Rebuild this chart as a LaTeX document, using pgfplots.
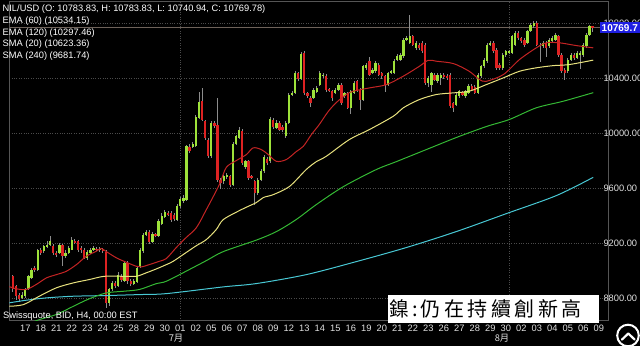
\documentclass[border=0pt]{standalone}
\usepackage{pgfplots}
\pgfplotsset{compat=1.18}
\usepackage{pgfplotstable}
\usepackage{fontspec}
\setmainfont{Liberation Sans}
\newfontfamily\cjk{Noto Sans CJK TC}
\definecolor{cup}{RGB}{158,226,58}
\definecolor{cdn}{RGB}{222,34,34}
\definecolor{wick}{RGB}{140,140,140}
\definecolor{sma20}{RGB}{196,36,36}
\definecolor{ema60}{RGB}{232,226,126}
\definecolor{ema120}{RGB}{52,184,52}
\definecolor{sma240}{RGB}{72,200,212}
\definecolor{pline}{RGB}{110,98,90}
\definecolor{gridc}{RGB}{75,75,75}
\definecolor{framec}{RGB}{85,85,85}
\definecolor{lblue}{RGB}{30,30,225}
\definecolor{tickc}{RGB}{225,225,225}
\newcommand\fs{\fontsize{9.3bp}{11bp}\selectfont}

\pgfplotstableread{
i o h l c
-1 8807 8845 8795 8829
0 8817 8880 8805 8871
1 8871 8970 8860 8962
2 8953 9025 8940 9011
4 9011 9160 9000 9151
6 9144 9190 9130 9180
7 9178 9217 9165 9193
8 9193 9258 9185 9217
11 9135 9205 9125 9193
13 9106 9150 9095 9135
14 9135 9185 9125 9171
15 9156 9245 9150 9224
20 9098 9150 9080 9142
21 9135 9170 9125 9156
22 9156 9180 9145 9166
24 9156 9175 9140 9164
27 8771 8880 8749 8866
28 8866 8930 8855 8916
30 8895 8990 8885 8974
32 8931 9075 8920 9062
35 8909 8945 8900 8931
36 8924 9035 8915 9025
37 9033 9165 9025 9156
38 9144 9275 9135 9265
39 9265 9300 9255 9287
41 9214 9285 9205 9273
43 9258 9380 9250 9362
44 9345 9420 9335 9404
45 9396 9445 9385 9428
49 9375 9490 9365 9476
50 9471 9540 9460 9527
51 9508 9550 9495 9535
52 9520 9920 9510 9908
54 9905 9940 9895 9927
55 9908 10135 9900 10124
56 10114 10300 10105 10228
60 9835 10090 9820 10080
64 9653 9700 9630 9689
65 9687 9715 9670 9702
67 9629 9940 9620 9927
68 9927 9990 9915 9980
69 9969 10045 9960 10024
71 9758 9810 9745 9798
75 9569 9675 9555 9665
76 9665 9740 9655 9726
77 9726 9845 9715 9830
79 9798 10120 9785 10107
81 10044 10095 10030 10080
84 9980 10090 9965 10080
85 10078 10295 10070 10284
86 10284 10310 10270 10296
87 10296 10455 10285 10441
89 10398 10595 10390 10582
93 10262 10330 10250 10320
94 10305 10345 10295 10334
95 10356 10455 10345 10441
96 10420 10440 10405 10429
100 10296 10330 10285 10320
101 10320 10370 10310 10356
103 10271 10305 10260 10296
105 10189 10320 10140 10308
106 10296 10380 10285 10369
109 10247 10500 10235 10489
110 10478 10515 10465 10502
112 10441 10475 10430 10465
113 10453 10525 10440 10514
117 10356 10450 10345 10441
118 10441 10465 10430 10453
119 10441 10540 10430 10526
120 10538 10575 10525 10562
121 10538 10585 10525 10574
122 10562 10695 10550 10684
123 10684 10710 10670 10696
124 10660 10865 10650 10708
126 10623 10670 10610 10660
130 10369 10415 10340 10405
131 10356 10450 10300 10441
133 10381 10440 10370 10429
134 10405 10440 10350 10429
139 10211 10295 10200 10284
140 10271 10320 10260 10308
142 10271 10320 10260 10308
143 10296 10360 10285 10349
146 10296 10440 10285 10429
147 10417 10500 10405 10489
148 10489 10550 10475 10538
149 10526 10660 10515 10647
150 10647 10675 10635 10660
154 10478 10585 10465 10574
155 10574 10610 10560 10598
156 10587 10610 10575 10598
157 10587 10720 10575 10708
158 10647 10745 10640 10732
162 10660 10755 10650 10744
163 10744 10805 10735 10793
164 10780 10815 10770 10805
167 10635 10670 10620 10660
169 10635 10695 10620 10684
170 10671 10706 10660 10696
171 10684 10730 10670 10720
175 10453 10550 10440 10538
176 10538 10585 10525 10574
178 10550 10600 10540 10587
179 10568 10600 10470 10587
180 10574 10660 10560 10647
181 10640 10730 10625 10720
182 10720 10790 10710 10780
}\up

\pgfplotstableread{
i o h l c
-4 8962 8975 8851 8866
-3 8890 8900 8793 8817
-2 8829 8840 8778 8798
3 9025 9040 8990 9006
5 9156 9170 9120 9135
9 9185 9200 9120 9135
10 9135 9145 9100 9120
12 9193 9200 9035 9108
16 9222 9235 9195 9207
17 9217 9225 9140 9156
18 9171 9180 9130 9151
19 9156 9165 9085 9098
23 9164 9175 9145 9156
25 9164 9170 9135 9149
26 9142 9150 8735 8769
29 8916 8925 8880 8895
31 8967 8980 8920 8938
33 9062 9070 8905 8926
34 8931 8940 8895 8909
40 9287 9300 9195 9209
42 9273 9280 9245 9258
46 9425 9440 9400 9411
47 9425 9435 9360 9375
48 9411 9420 9365 9380
53 9905 9925 9860 9871
57 10235 10330 10090 10102
58 10089 10100 9950 9969
59 9956 9965 9820 9835
61 10080 10090 10040 10058
62 10065 10255 9650 9665
63 9665 9675 9600 9641
66 9689 9700 9610 9629
70 10017 10030 9775 9787
72 9798 9810 9665 9678
73 9687 9700 9670 9684
74 9653 9665 9484 9569
78 9818 9830 9775 9789
80 10102 10115 10035 10049
82 10080 10090 10015 10029
83 10051 10060 10010 10024
88 10441 10450 10385 10398
90 10587 10600 10280 10296
91 10296 10305 10255 10271
92 10262 10275 10195 10223
97 10417 10430 10300 10320
98 10320 10330 10305 10317
99 10308 10320 10240 10260
102 10356 10365 10210 10223
104 10296 10305 10175 10189
107 10380 10390 10305 10320
108 10320 10330 10170 10247
111 10526 10560 10415 10429
114 10502 10510 10415 10429
115 10441 10450 10400 10417
116 10417 10425 10300 10356
125 10708 10720 10635 10647
127 10647 10660 10610 10623
128 10660 10670 10585 10598
129 10647 10660 10355 10369
132 10429 10440 10380 10393
135 10429 10440 10400 10414
136 10420 10430 10390 10405
137 10429 10440 10185 10198
138 10222 10230 10160 10187
141 10300 10310 10270 10284
144 10349 10360 10310 10320
145 10341 10350 10285 10296
151 10660 10670 10585 10598
152 10611 10620 10465 10478
153 10502 10510 10460 10478
159 10732 10745 10680 10696
160 10696 10705 10655 10671
161 10684 10695 10630 10647
165 10805 10815 10635 10647
166 10647 10655 10520 10635
168 10660 10670 10560 10623
172 10708 10720 10560 10574
173 10574 10585 10440 10453
174 10465 10475 10390 10441
177 10574 10585 10535 10550
183 10783.83 10783.83 10740.94 10769.78
}\dn

\begin{document}
\begin{tikzpicture}[x=1bp,y=1bp]
\useasboundingbox (0,0) rectangle (640,346);
\fill[black] (0,0) rectangle (640,346);
\begin{axis}[
  at={(3,18.5)}, anchor=south west, scale only axis,
  width=599bp, height=319bp,
  xmin=-5.16, xmax=188.06, ymin=8640, ymax=10960,
  axis line style={draw=framec, line width=0.8bp},
  tick style={draw=none},
  xtick={0,5,...,185},
  xticklabels={17,18,21,22,23,24,25,28,29,30,01,02,05,06,07,08,09,12,13,14,15,16,19,20,21,22,23,26,27,28,29,30,02,03,04,05,06,09},
  xticklabel style={font=\fs, text=tickc, anchor=north, inner sep=0pt, yshift=-4bp},
  ytick={8800,9200,9600,10000,10400,10800},
  scaled y ticks=false,
  yticklabel pos=right,
  yticklabel style={font=\fs, text=tickc, anchor=west, inner sep=0pt, xshift=-5bp,
    /pgf/number format/fixed, /pgf/number format/fixed zerofill,
    /pgf/number format/precision=2, /pgf/number format/1000 sep={}},
  /pgf/number format/assume math mode=true,
  ymajorgrids, major grid style={draw=gridc, dotted, line width=0.7bp},
  extra x ticks={50,156}, extra x tick labels={}, extra x tick style={grid=major},
]
% current price line
\addplot[pline, line width=1bp] coordinates {(-6,10769.78) (190,10769.78)};
% wicks
\addplot[draw=none, mark=none, error bars/.cd, y dir=both, y explicit, error mark=none,
  error bar style={draw=wick, line width=0.8bp}]
  table[x=i, y expr={\thisrow{l}+(\thisrow{h}-\thisrow{l})/2}, y error expr={(\thisrow{h}-\thisrow{l})/2}] {\up};
\addplot[draw=none, mark=none, error bars/.cd, y dir=both, y explicit, error mark=none,
  error bar style={draw=wick, line width=0.8bp}]
  table[x=i, y expr={\thisrow{l}+(\thisrow{h}-\thisrow{l})/2}, y error expr={(\thisrow{h}-\thisrow{l})/2}] {\dn};
% bodies
\addplot[draw=none, mark=none, error bars/.cd, y dir=both, y explicit, error mark=none,
  error bar style={draw=cup, line width=2.3bp}]
  table[x=i, y expr={\thisrow{o}+(\thisrow{c}-\thisrow{o})/2}, y error expr={max(abs(\thisrow{c}-\thisrow{o})/2,4)}] {\up};
\addplot[draw=none, mark=none, error bars/.cd, y dir=both, y explicit, error mark=none,
  error bar style={draw=cdn, line width=2.3bp}]
  table[x=i, y expr={\thisrow{c}+(\thisrow{o}-\thisrow{c})/2}, y error expr={max(abs(\thisrow{c}-\thisrow{o})/2,4)}] {\dn};
% SMA 240
\addplot[sma240, line width=1bp, smooth] coordinates {(-5.2,8769) (0.3,8788) (6.8,8805) (15.5,8817) (26.1,8822) (36.8,8829) (45.5,8836) (63.9,8885) (74.5,8909) (90.6,8974) (106.8,9069) (122.9,9171) (139,9287) (155.2,9418) (171.3,9549) (183.2,9681.74)};
% EMA 120
\addplot[ema120, line width=1bp, smooth] coordinates {(0.3,8611) (4.5,8647) (10,8684) (15.5,8744) (20.6,8798) (26.1,8841) (31.6,8853) (36.8,8866) (42.3,8909) (45.5,8926) (52.9,9011) (58.4,9076) (63.9,9142) (74.5,9225) (81,9287) (87.4,9375) (93.9,9484) (102.6,9614) (113.2,9738) (119.7,9796) (129.4,9884) (139,9971) (148.7,10051) (156.1,10102) (164.8,10187) (173.5,10235) (183.2,10297.46)};
% EMA 60
\addplot[ema60, line width=1bp, smooth] coordinates {(-5.2,8744) (-0.6,8756) (4.5,8817) (10,8878) (15.5,8914) (20.6,8938) (25.5,8962) (31.6,8962) (35.8,8962) (39,8987) (42.3,9016) (45.5,9047) (47.7,9071) (51.9,9135) (55.2,9185) (58.4,9229) (61.6,9302) (63.9,9375) (69.7,9447) (74.5,9498) (76.8,9535) (80,9556) (85.2,9615) (90.6,9738) (93.9,9796) (97.1,9835) (104.5,9956) (111,10029) (118.7,10126) (121.9,10187) (127.1,10247) (132.6,10284) (138.1,10296) (143.2,10308) (148.7,10356) (154.2,10405) (159.4,10453) (164.8,10478) (170.3,10494) (175.5,10502) (183.2,10534.15)};
% SMA 20
\addplot[sma20, line width=1bp, smooth] coordinates {(-5.2,8887) (-2.9,8871) (0.3,8866) (3.5,8902) (6.8,8950) (10,8974) (13.2,8998) (16.5,9047) (19.7,9108) (22.9,9144) (24.5,9164) (26.1,9142) (29.4,9096) (32.6,9064) (35.8,9035) (37.4,9030) (40,9047) (43.2,9071) (45.5,9091) (48.7,9171) (51.9,9244) (55.2,9316) (58.4,9447) (62.6,9629) (64.8,9753) (68.1,9804) (71.3,9847) (73.5,9896) (76.1,9884) (78.4,9847) (81,9798) (84.2,9811) (87.4,9869) (89.7,9908) (92.3,9993) (94.8,10065) (97.7,10160) (100.3,10225) (103.5,10284) (105.8,10308) (111,10332) (116.5,10356) (121.9,10417) (127.1,10489) (130,10533) (132.6,10526) (138.1,10509) (143.2,10453) (146.5,10393) (148.7,10380) (154.2,10429) (159.4,10538) (164.8,10623) (168.1,10660) (172.3,10660) (177.7,10640) (183.2,10623.36)};
\end{axis}
% legend text
\node[anchor=base west, text=white, font=\fs, inner sep=0pt] at (2.5,334.5) {NIL/USD (O: 10783.83, H: 10783.83, L: 10740.94, C: 10769.78)};
\node[anchor=base west, text=white, font=\fs, inner sep=0pt] at (2.5,322.7) {EMA (60) (10534.15)};
\node[anchor=base west, text=white, font=\fs, inner sep=0pt] at (2.5,311) {EMA (120) (10297.46)};
\node[anchor=base west, text=white, font=\fs, inner sep=0pt] at (2.5,299.2) {SMA (20) (10623.36)};
\node[anchor=base west, text=white, font=\fs, inner sep=0pt] at (2.5,287.5) {SMA (240) (9681.74)};
\node[anchor=base west, text=white, font=\fs, inner sep=0pt] at (3,27.7) {Swissquote, BID, H4, 00:00 EST};
% current price label
\fill[lblue] (600,312.7) rectangle (641,324.3);
\node[anchor=base west, text=white, font=\fontsize{10bp}{11bp}\selectfont\bfseries, inner sep=0pt] at (601.5,315) {10769.7};
% month labels
\node[text=tickc, font=\cjk\fontsize{9.3bp}{11bp}\selectfont, inner sep=0pt] at (176,8) {7月};
\node[text=tickc, font=\cjk\fontsize{9.3bp}{11bp}\selectfont, inner sep=0pt] at (502,8) {8月};
% caption box
\fill[white] (388,23) rectangle (599,51);
\node[anchor=west, text=black, inner sep=0pt] at (389,37) {\cjk\fontsize{20bp}{20bp}\selectfont 鎳\hspace{3bp}:\hspace{3bp}仍\hspace{3.5bp}在\hspace{3.5bp}持\hspace{3.5bp}續\hspace{3.5bp}創\hspace{3.5bp}新\hspace{3.5bp}高};
% scroll button
\draw[white, line width=2bp] (628,10.5) circle (10.8);
\draw[white, line width=2.2bp, line cap=round, line join=round] (622,6.5) -- (628.3,12.5) -- (634.6,6.5);
\end{tikzpicture}
\end{document}
